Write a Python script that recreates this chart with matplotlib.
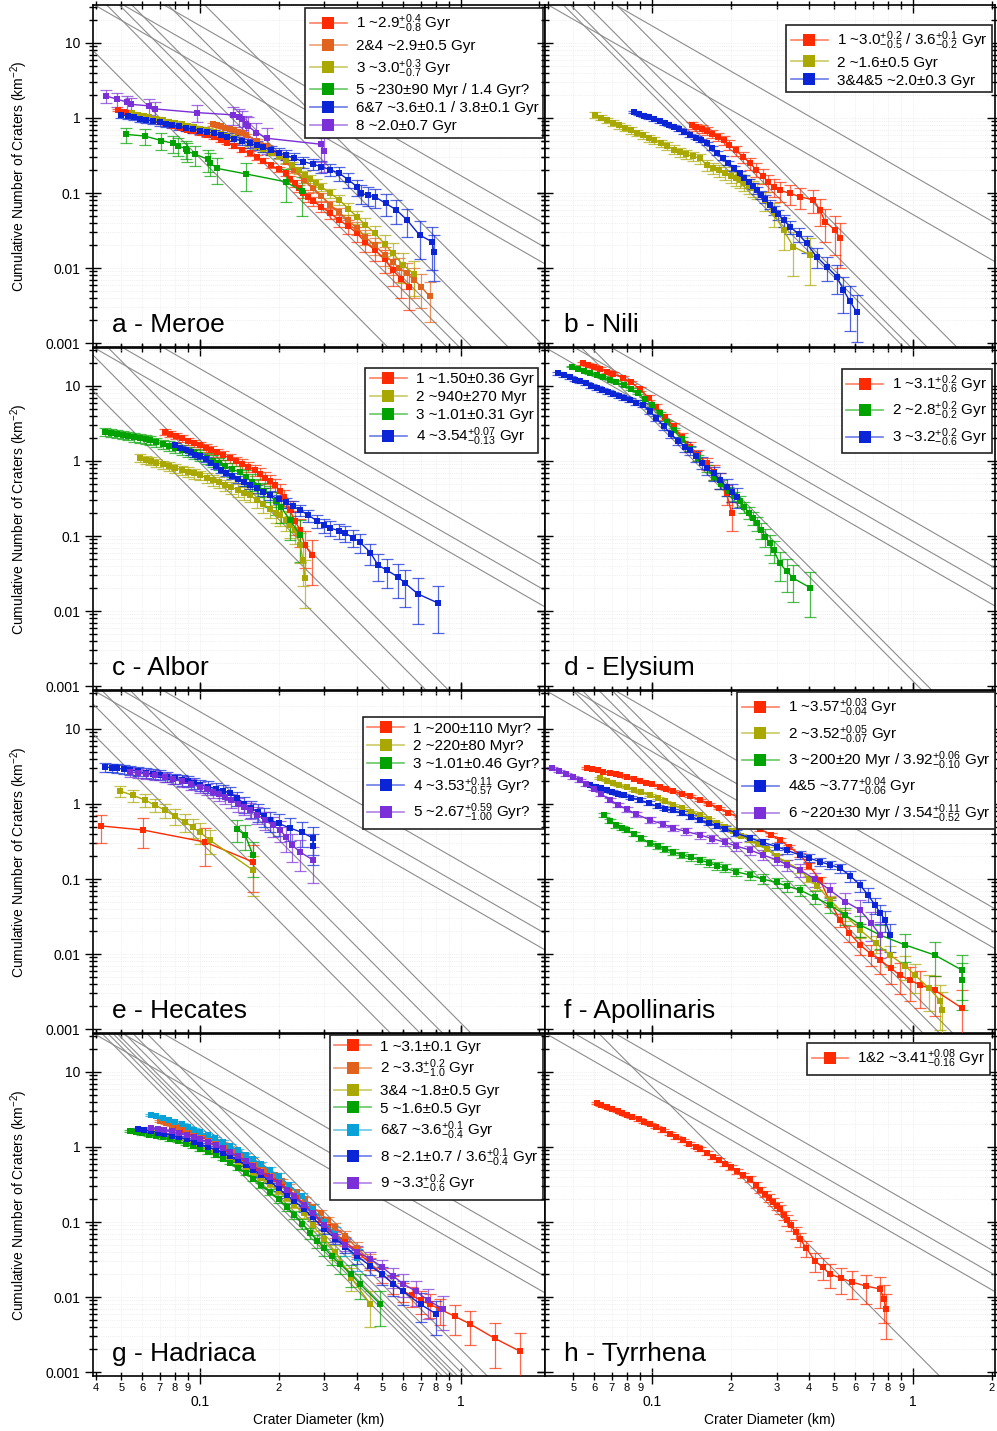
import numpy as np
import matplotlib.pyplot as plt
from matplotlib.lines import Line2D
from matplotlib.colors import to_rgba

plt.rcParams['font.family'] = ['Liberation Sans', 'DejaVu Sans']
plt.rcParams['mathtext.fontset'] = 'custom'
plt.rcParams['mathtext.rm'] = 'Liberation Sans'
plt.rcParams['mathtext.it'] = 'Liberation Sans:italic'
plt.rcParams['mathtext.bf'] = 'Liberation Sans:bold'

RED = '#ff2a00'
ORANGE = '#e0621c'
OLIVE = '#a8a800'
GREEN = '#00a200'
BLUE = '#0b24d6'
PURPLE = '#7a2fd8'
CYAN = '#08a2d8'

# ---------------- data: crater diameter (km) and cumulative N (per km2) ----------------
# a - Meroe
a1_d = [0.0485, 0.051, 0.054, 0.057, 0.060, 0.063, 0.067, 0.071, 0.075, 0.079, 0.084, 0.089, 0.094, 0.1,
        0.106, 0.1135, 0.12, 0.127, 0.135, 0.145, 0.1555, 0.165, 0.175, 0.187, 0.2, 0.213, 0.222, 0.231,
        0.24, 0.249, 0.26, 0.272, 0.292, 0.315, 0.342, 0.37, 0.40, 0.43, 0.468, 0.51, 0.548, 0.59, 0.632]
a1_n = [1.28, 1.22, 1.15, 1.09, 1.04, 0.99, 0.93, 0.88, 0.835, 0.79, 0.745, 0.70, 0.665, 0.625,
        0.59, 0.56, 0.51, 0.47, 0.425, 0.38, 0.338, 0.30, 0.27, 0.235, 0.207, 0.183, 0.155, 0.135,
        0.115, 0.099, 0.088, 0.078, 0.066, 0.054, 0.0436, 0.036, 0.029, 0.022, 0.0174, 0.013, 0.0094,
        0.0072, 0.0056]
a2_d = [0.1117, 0.116, 0.12, 0.125, 0.13, 0.135, 0.14, 0.145, 0.1507, 0.165, 0.18, 0.195, 0.213, 0.23,
        0.25, 0.27, 0.292, 0.315, 0.342, 0.37, 0.40, 0.43, 0.468, 0.51, 0.548, 0.58, 0.62, 0.66, 0.705, 0.758]
a2_n = [0.824, 0.80, 0.775, 0.745, 0.715, 0.685, 0.655, 0.625, 0.593, 0.5, 0.42, 0.34, 0.26, 0.2,
        0.15, 0.115, 0.09, 0.07, 0.055, 0.043, 0.034, 0.026, 0.02, 0.015, 0.012, 0.01, 0.0085, 0.007,
        0.0056, 0.0042]
a3_d = [0.055, 0.058, 0.061, 0.064, 0.068, 0.072, 0.076, 0.08, 0.085, 0.09, 0.095, 0.1, 0.106, 0.1135,
        0.12, 0.127, 0.135, 0.145, 0.1555, 0.165, 0.175, 0.187, 0.2, 0.213, 0.226, 0.24, 0.252, 0.265,
        0.278, 0.292, 0.315, 0.342, 0.37, 0.40, 0.43, 0.468, 0.51, 0.548, 0.6, 0.662]
a3_n = [1.155, 1.107, 1.064, 1.025, 0.977, 0.935, 0.896, 0.861, 0.822, 0.786, 0.753, 0.724, 0.692, 0.657,
        0.62, 0.58, 0.54, 0.50, 0.46, 0.42, 0.385, 0.345, 0.31, 0.275, 0.235, 0.2, 0.175, 0.155,
        0.137, 0.121, 0.1, 0.081, 0.062, 0.048, 0.038, 0.029, 0.021, 0.0157, 0.011, 0.0083]
a5_d = [0.0519, 0.0614, 0.0711, 0.0789, 0.082, 0.0881, 0.0889, 0.096, 0.1074, 0.109, 0.1163, 0.1507, 0.213, 0.2455]
a5_n = [0.605, 0.575, 0.50, 0.46, 0.427, 0.39, 0.363, 0.328, 0.281, 0.254, 0.213, 0.179, 0.141, 0.106]
a6_d = [0.05, 0.053, 0.056, 0.059, 0.062, 0.066, 0.07, 0.074, 0.078, 0.083, 0.088, 0.094, 0.1, 0.106,
        0.1135, 0.12, 0.127, 0.135, 0.145, 0.1555, 0.165, 0.175, 0.187, 0.2, 0.213, 0.23, 0.249, 0.27,
        0.292, 0.315, 0.342, 0.37, 0.40, 0.413, 0.44, 0.468, 0.515, 0.566, 0.622, 0.694, 0.775, 0.787]
a6_n = [1.1, 1.056, 1.017, 0.981, 0.947, 0.907, 0.871, 0.838, 0.808, 0.773, 0.742, 0.709, 0.68, 0.652,
        0.625, 0.59, 0.56, 0.53, 0.495, 0.46, 0.43, 0.405, 0.375, 0.345, 0.321, 0.29, 0.262, 0.243,
        0.224, 0.205, 0.183, 0.15, 0.121, 0.099, 0.094, 0.089, 0.0728, 0.0593, 0.0436, 0.0275, 0.0224, 0.0166]
a8_d = [0.0437, 0.048, 0.0524, 0.0545, 0.064, 0.0675, 0.0977, 0.134, 0.1415, 0.145, 0.1496, 0.1527,
        0.1645, 0.181, 0.292, 0.2985]
a8_n = [1.96, 1.79, 1.63, 1.52, 1.45, 1.32, 1.18, 1.10, 1.04, 0.96, 0.82, 0.78, 0.64, 0.536, 0.446, 0.363]

# b - Nili
b1_d = [0.142, 0.148, 0.155, 0.162, 0.17, 0.179, 0.188, 0.198, 0.21, 0.224, 0.238, 0.25, 0.265, 0.278,
        0.292, 0.31, 0.338, 0.369, 0.415, 0.44, 0.46, 0.503, 0.525]
b1_n = [0.807, 0.76, 0.72, 0.67, 0.62, 0.565, 0.51, 0.44, 0.37, 0.30, 0.249, 0.205, 0.17, 0.14,
        0.121, 0.108, 0.099, 0.089, 0.081, 0.0593, 0.0415, 0.032, 0.0249]
b2_d = [0.0605, 0.064, 0.0675, 0.071, 0.075, 0.079, 0.083, 0.0875, 0.092, 0.097, 0.102, 0.108, 0.114,
        0.121, 0.128, 0.135, 0.143, 0.153, 0.162, 0.171, 0.18, 0.19, 0.2, 0.21, 0.217, 0.226, 0.235,
        0.243, 0.252, 0.27, 0.292, 0.319, 0.348, 0.403]
b2_n = [1.1, 1.011, 0.933, 0.865, 0.797, 0.737, 0.685, 0.632, 0.587, 0.542, 0.502, 0.461, 0.425,
        0.38, 0.355, 0.33, 0.31, 0.29, 0.235, 0.215, 0.2, 0.185, 0.17, 0.158, 0.149, 0.137, 0.125,
        0.117, 0.11, 0.08, 0.0536, 0.032, 0.0192, 0.0149]
b3_d = [0.085, 0.089, 0.093, 0.097, 0.102, 0.107, 0.112, 0.1165, 0.121, 0.127, 0.133, 0.14, 0.147,
        0.154, 0.162, 0.17, 0.178, 0.187, 0.196, 0.206, 0.217, 0.226, 0.235, 0.243, 0.252, 0.262, 0.272,
        0.282, 0.292, 0.305, 0.32, 0.338, 0.365, 0.391, 0.427, 0.467, 0.51, 0.541, 0.573, 0.608]
b3_n = [1.21, 1.14, 1.078, 1.02, 0.957, 0.90, 0.848, 0.805, 0.766, 0.704, 0.65, 0.593, 0.545,
        0.502, 0.46, 0.395, 0.342, 0.293, 0.253, 0.216, 0.183, 0.16, 0.14, 0.125, 0.11, 0.095, 0.083,
        0.07, 0.0593, 0.052, 0.043, 0.0356, 0.028, 0.0213, 0.0142, 0.0104, 0.0077, 0.0051, 0.0036, 0.0026]

# c - Albor
c1_d = [0.0734, 0.077, 0.081, 0.085, 0.09, 0.095, 0.1, 0.105, 0.11, 0.116, 0.122, 0.13, 0.137, 0.145,
        0.153, 0.1625, 0.17, 0.178, 0.186, 0.194, 0.202, 0.21, 0.221, 0.231, 0.242, 0.252, 0.268]
c1_n = [2.44, 2.3, 2.15, 2.0, 1.85, 1.73, 1.63, 1.5, 1.4, 1.3, 1.2, 1.10, 1.0, 0.92,
        0.84, 0.76, 0.68, 0.6, 0.54, 0.48, 0.4, 0.33, 0.222, 0.16, 0.12, 0.076, 0.056]
c2_d = [0.0589, 0.062, 0.065, 0.068, 0.072, 0.076, 0.08, 0.085, 0.09, 0.095, 0.1, 0.106, 0.112, 0.118,
        0.125, 0.132, 0.14, 0.148, 0.1555, 0.165, 0.175, 0.185, 0.195, 0.203, 0.213, 0.222, 0.231,
        0.242, 0.248, 0.2525]
c2_n = [1.10, 1.045, 0.997, 0.953, 0.9, 0.853, 0.81, 0.762, 0.72, 0.683, 0.65, 0.6, 0.56, 0.52,
        0.48, 0.445, 0.41, 0.38, 0.352, 0.3, 0.265, 0.23, 0.205, 0.19, 0.165, 0.14, 0.12,
        0.076, 0.048, 0.0275]
c3_d = [0.0433, 0.0455, 0.048, 0.0505, 0.053, 0.056, 0.059, 0.062, 0.0643, 0.068, 0.072, 0.076, 0.08,
        0.085, 0.09, 0.095, 0.1, 0.106, 0.112, 0.118, 0.125, 0.133, 0.142, 0.15, 0.158, 0.167, 0.176,
        0.185, 0.195, 0.205, 0.221, 0.242]
c3_n = [2.44, 2.37, 2.29, 2.22, 2.15, 2.08, 2.0, 1.95, 1.9, 1.79, 1.69, 1.6, 1.51,
        1.42, 1.34, 1.26, 1.2, 1.1, 1.01, 0.935, 0.86, 0.78, 0.71, 0.61, 0.53, 0.46, 0.4,
        0.352, 0.29, 0.24, 0.163, 0.103]
c4_d = [0.0802, 0.084, 0.088, 0.092, 0.096, 0.1, 0.105, 0.11, 0.115, 0.12, 0.126, 0.133, 0.14, 0.148,
        0.156, 0.165, 0.175, 0.186, 0.2, 0.213, 0.227, 0.242, 0.26, 0.28, 0.3, 0.315, 0.34, 0.36, 0.385,
        0.41, 0.45, 0.481, 0.52, 0.574, 0.61, 0.684, 0.816]
c4_n = [1.63, 1.5, 1.4, 1.3, 1.22, 1.15, 1.05, 0.95, 0.85, 0.76, 0.7, 0.63, 0.57, 0.52,
        0.475, 0.43, 0.39, 0.35, 0.31, 0.28, 0.25, 0.222, 0.19, 0.16, 0.14, 0.128, 0.118, 0.11, 0.095,
        0.083, 0.06, 0.041, 0.035, 0.0284, 0.0236, 0.0169, 0.0128]

# d - Elysium
d1_d = [0.0546, 0.057, 0.06, 0.063, 0.067, 0.071, 0.0776, 0.083, 0.09, 0.097, 0.104, 0.112, 0.121, 0.13,
        0.14, 0.15, 0.162, 0.172, 0.182, 0.193, 0.202]
d1_n = [20.1, 19.2, 18.0, 17.0, 15.6, 14.5, 12.8, 11.2, 9.0, 7.0, 5.3, 3.9, 2.9, 2.1,
        1.55, 1.2, 0.93, 0.72, 0.56, 0.37, 0.2]
d2_d = [0.0492, 0.052, 0.055, 0.058, 0.0615, 0.065, 0.069, 0.073, 0.078, 0.083, 0.088, 0.094, 0.1, 0.107,
        0.114, 0.121, 0.13, 0.14, 0.15, 0.162, 0.172, 0.183, 0.195, 0.206, 0.217, 0.226, 0.235, 0.243,
        0.252, 0.262, 0.272, 0.282, 0.292, 0.309, 0.328, 0.348, 0.403]
d2_n = [18.1, 17.0, 16.0, 15.0, 14.0, 13.1, 12.2, 11.2, 10.2, 9.1, 8.0, 6.8, 5.5, 4.3,
        3.3, 2.6, 1.95, 1.45, 1.1, 0.8, 0.62, 0.49, 0.4, 0.34, 0.29, 0.245, 0.205, 0.175,
        0.148, 0.12, 0.098, 0.08, 0.065, 0.043, 0.034, 0.0273, 0.0205]
d3_d = [0.0438, 0.046, 0.0483, 0.0507, 0.0532, 0.0558, 0.0585, 0.0614, 0.0644, 0.0676, 0.071, 0.0745,
        0.078, 0.0824, 0.087, 0.092, 0.098, 0.104, 0.111, 0.118, 0.126, 0.134, 0.14, 0.148, 0.155, 0.163,
        0.172, 0.182, 0.193, 0.202, 0.211]
d3_n = [14.8, 13.9, 13.0, 12.2, 11.5, 10.8, 10.1, 9.5, 8.9, 8.4, 7.86, 7.38,
        6.95, 6.47, 6.02, 5.6, 4.6, 3.7, 2.9, 2.3, 1.85, 1.55, 1.4, 1.17, 0.95, 0.8,
        0.686, 0.56, 0.455, 0.39, 0.334]

# e - Hecates
e1_d = [0.0418, 0.0605, 0.1045, 0.1595]
e1_n = [0.51, 0.45, 0.311, 0.169]
e2_d = [0.0494, 0.0555, 0.0616, 0.067, 0.0734, 0.08, 0.0877, 0.094, 0.1, 0.109, 0.1595]
e2_n = [1.49, 1.3, 1.13, 0.97, 0.83, 0.69, 0.575, 0.49, 0.42, 0.331, 0.132]
e3_d = [0.1386, 0.149, 0.1595]
e3_n = [0.46, 0.386, 0.209]
e4_d = [0.0433, 0.046, 0.048, 0.051, 0.054, 0.058, 0.062, 0.066, 0.0703, 0.075, 0.08, 0.085, 0.09, 0.095,
        0.1, 0.107, 0.115, 0.122, 0.13, 0.139, 0.148, 0.157, 0.167, 0.176, 0.185, 0.2, 0.221, 0.245,
        0.271, 0.271]
e4_n = [3.11, 3.05, 3.0, 2.92, 2.84, 2.72, 2.6, 2.52, 2.44, 2.32, 2.2, 2.1, 2.0, 1.9,
        1.79, 1.7, 1.6, 1.5, 1.40, 1.2, 1.0, 0.88, 0.78, 0.69, 0.61, 0.55, 0.48, 0.42,
        0.352, 0.275]
e5_d = [0.054, 0.058, 0.062, 0.067, 0.0734, 0.079, 0.085, 0.092, 0.1, 0.106, 0.112, 0.118, 0.125, 0.132,
        0.14, 0.148, 0.1555, 0.166, 0.1775, 0.19, 0.203, 0.214, 0.225, 0.242, 0.271]
e5_n = [2.67, 2.58, 2.5, 2.4, 2.29, 2.15, 2.0, 1.85, 1.69, 1.57, 1.45, 1.35, 1.24, 1.12,
        1.0, 0.91, 0.83, 0.72, 0.61, 0.52, 0.45, 0.36, 0.284, 0.229, 0.179]

# f - Apollinaris
f1_d = [0.0564, 0.059, 0.062, 0.065, 0.069, 0.0725, 0.0754, 0.08, 0.085, 0.09, 0.095, 0.1, 0.107, 0.113,
        0.12, 0.13, 0.14, 0.153, 0.165, 0.18, 0.195, 0.217, 0.237, 0.26, 0.285, 0.309, 0.335, 0.369, 0.4,
        0.44, 0.48, 0.525, 0.57, 0.627, 0.69, 0.748, 0.82, 0.892, 0.97, 1.06, 1.21, 1.54]
f1_n = [3.02, 2.9, 2.8, 2.7, 2.6, 2.52, 2.44, 2.3, 2.17, 2.05, 1.93, 1.82, 1.69, 1.6,
        1.5, 1.38, 1.27, 1.13, 1.0, 0.88, 0.77, 0.65, 0.55, 0.46, 0.39, 0.331, 0.27, 0.209, 0.15,
        0.097, 0.05, 0.0284, 0.019, 0.0132, 0.01, 0.0083, 0.0065, 0.0052, 0.0045, 0.0039, 0.0033, 0.0019]
f2_d = [0.0632, 0.067, 0.071, 0.075, 0.08, 0.085, 0.091, 0.0983, 0.105, 0.112, 0.12, 0.13, 0.141, 0.153,
        0.165, 0.178, 0.19, 0.205, 0.22, 0.237, 0.255, 0.275, 0.3, 0.33, 0.369, 0.4, 0.43, 0.48, 0.55,
        0.627, 0.72, 0.816, 0.93, 1.02, 1.15, 1.27, 1.29]
f2_n = [2.22, 2.05, 1.93, 1.8, 1.66, 1.55, 1.43, 1.32, 1.2, 1.08, 0.98, 0.88, 0.79, 0.71,
        0.63, 0.56, 0.5, 0.44, 0.38, 0.331, 0.29, 0.25, 0.2, 0.165, 0.132, 0.1, 0.08, 0.0525, 0.033,
        0.0209, 0.014, 0.0097, 0.007, 0.0052, 0.0035, 0.0024, 0.0018]
f3_d = [0.0655, 0.069, 0.073, 0.077, 0.08, 0.085, 0.091, 0.0983, 0.105, 0.112, 0.12, 0.13, 0.141, 0.153,
        0.165, 0.178, 0.19, 0.21, 0.237, 0.265, 0.3, 0.33, 0.369, 0.42, 0.48, 0.55, 0.627, 0.748, 0.932,
        1.21, 1.54, 1.54]
f3_n = [0.71, 0.6, 0.52, 0.48, 0.45, 0.4, 0.35, 0.30, 0.275, 0.25, 0.23, 0.21, 0.195, 0.179,
        0.165, 0.15, 0.14, 0.125, 0.113, 0.1, 0.09, 0.08, 0.0713, 0.057, 0.045, 0.033, 0.0244, 0.0179,
        0.0132, 0.0097, 0.0061, 0.0045]
f4_d = [0.0579, 0.061, 0.064, 0.067, 0.07, 0.074, 0.078, 0.083, 0.09, 0.097, 0.105, 0.112, 0.12, 0.13,
        0.141, 0.153, 0.165, 0.178, 0.19, 0.21, 0.237, 0.265, 0.3, 0.33, 0.369, 0.4, 0.44, 0.48, 0.525,
        0.575, 0.627, 0.67, 0.715, 0.75, 0.781, 0.816]
f4_n = [1.79, 1.7, 1.62, 1.54, 1.45, 1.37, 1.3, 1.22, 1.13, 1.03, 0.93, 0.87, 0.82, 0.75,
        0.68, 0.61, 0.56, 0.51, 0.47, 0.41, 0.352, 0.31, 0.27, 0.24, 0.209, 0.19, 0.17, 0.155, 0.14,
        0.11, 0.083, 0.062, 0.045, 0.035, 0.0284, 0.0179]
f6_d = [0.0414, 0.044, 0.047, 0.05, 0.053, 0.056, 0.06, 0.064, 0.069, 0.074, 0.08, 0.087, 0.0983, 0.11,
        0.12, 0.135, 0.153, 0.17, 0.19, 0.21, 0.237, 0.265, 0.3, 0.33, 0.369, 0.42, 0.48, 0.55, 0.627,
        0.69, 0.748]
f6_n = [3.02, 2.75, 2.5, 2.28, 2.09, 1.85, 1.6, 1.35, 1.13, 0.98, 0.85, 0.73, 0.61, 0.54,
        0.48, 0.43, 0.386, 0.345, 0.31, 0.275, 0.244, 0.21, 0.18, 0.155, 0.132, 0.1, 0.0713, 0.05, 0.0386,
        0.026, 0.0179]

# g - Hadriaca
g1_d = [0.08, 0.085, 0.09, 0.095, 0.1, 0.107, 0.114, 0.12, 0.128, 0.137, 0.146, 0.156, 0.167, 0.18,
        0.193, 0.207, 0.22, 0.236, 0.252, 0.27, 0.29, 0.31, 0.33, 0.36, 0.4, 0.45, 0.5, 0.55, 0.6, 0.65,
        0.7, 0.76, 0.83, 0.95, 1.08, 1.35, 1.68]
g1_n = [1.8, 1.7, 1.6, 1.5, 1.4, 1.27, 1.15, 1.05, 0.93, 0.82, 0.72, 0.62, 0.53, 0.44,
        0.37, 0.31, 0.26, 0.21, 0.17, 0.135, 0.105, 0.085, 0.07, 0.055, 0.04, 0.028, 0.02, 0.015, 0.012,
        0.0105, 0.009, 0.008, 0.0069, 0.0055, 0.0044, 0.0028, 0.0019]
g2_d = [0.07, 0.074, 0.078, 0.083, 0.088, 0.094, 0.1, 0.107, 0.114, 0.121, 0.129, 0.138, 0.147, 0.157,
        0.168, 0.18, 0.193, 0.207, 0.22, 0.236, 0.252, 0.27, 0.29, 0.31, 0.33, 0.36, 0.4, 0.45]
g2_n = [2.2, 2.08, 1.97, 1.85, 1.74, 1.62, 1.5, 1.36, 1.24, 1.12, 1.0, 0.88, 0.78, 0.68,
        0.58, 0.5, 0.42, 0.35, 0.3, 0.25, 0.2, 0.16, 0.13, 0.105, 0.085, 0.065, 0.045, 0.03]
g3_d = [0.06, 0.064, 0.068, 0.072, 0.077, 0.082, 0.088, 0.094, 0.1, 0.107, 0.114, 0.122, 0.13, 0.14,
        0.15, 0.16, 0.172, 0.185, 0.2, 0.215, 0.23, 0.25, 0.27, 0.3, 0.33, 0.38, 0.45]
g3_n = [1.7, 1.62, 1.54, 1.46, 1.38, 1.3, 1.2, 1.1, 1.0, 0.93, 0.85, 0.77, 0.7, 0.61,
        0.53, 0.46, 0.39, 0.32, 0.26, 0.21, 0.17, 0.13, 0.09, 0.06, 0.04, 0.018, 0.008]
g5_d = [0.054, 0.057, 0.06, 0.064, 0.068, 0.072, 0.077, 0.082, 0.088, 0.094, 0.1, 0.107, 0.115, 0.122,
        0.13, 0.14, 0.15, 0.16, 0.172, 0.185, 0.2, 0.215, 0.23, 0.247, 0.264, 0.282, 0.3, 0.32, 0.344,
        0.38, 0.41, 0.49]
g5_n = [1.63, 1.58, 1.52, 1.46, 1.4, 1.34, 1.27, 1.2, 1.1, 1.02, 0.94, 0.86, 0.78, 0.7,
        0.62, 0.53, 0.45, 0.38, 0.31, 0.25, 0.2, 0.16, 0.125, 0.095, 0.072, 0.056, 0.045, 0.035, 0.0275,
        0.02, 0.0149, 0.0081]
g6_d = [0.065, 0.068, 0.072, 0.076, 0.08, 0.085, 0.09, 0.095, 0.1, 0.107, 0.114, 0.122, 0.13, 0.14,
        0.15, 0.16, 0.172, 0.185, 0.2, 0.22, 0.245, 0.27, 0.3, 0.33, 0.36, 0.4]
g6_n = [2.7, 2.6, 2.45, 2.3, 2.15, 2.0, 1.85, 1.7, 1.58, 1.43, 1.3, 1.16, 1.04, 0.9,
        0.79, 0.69, 0.59, 0.5, 0.41, 0.31, 0.22, 0.15, 0.1, 0.07, 0.048, 0.033]
g8_d = [0.058, 0.061, 0.065, 0.069, 0.073, 0.078, 0.083, 0.089, 0.095, 0.1, 0.107, 0.115, 0.122, 0.13,
        0.14, 0.15, 0.16, 0.172, 0.185, 0.2, 0.215, 0.23, 0.25, 0.27, 0.3, 0.33, 0.36, 0.4, 0.45, 0.5,
        0.55, 0.6, 0.7, 0.8]
g8_n = [1.75, 1.7, 1.63, 1.56, 1.5, 1.42, 1.35, 1.27, 1.18, 1.1, 1.0, 0.92, 0.84, 0.76,
        0.67, 0.58, 0.5, 0.42, 0.35, 0.28, 0.23, 0.19, 0.15, 0.115, 0.08, 0.06, 0.047, 0.035, 0.026, 0.02,
        0.015, 0.012, 0.008, 0.006]
g9_d = [0.065, 0.069, 0.073, 0.078, 0.083, 0.089, 0.095, 0.1, 0.107, 0.115, 0.122, 0.13, 0.14, 0.15,
        0.16, 0.172, 0.185, 0.2, 0.215, 0.23, 0.25, 0.27, 0.3, 0.33, 0.36, 0.4, 0.45, 0.5, 0.55, 0.6,
        0.67, 0.75, 0.85]
g9_n = [1.8, 1.74, 1.68, 1.61, 1.54, 1.45, 1.35, 1.27, 1.17, 1.06, 0.96, 0.86, 0.75, 0.65,
        0.56, 0.47, 0.4, 0.33, 0.27, 0.22, 0.17, 0.13, 0.09, 0.065, 0.05, 0.04, 0.032, 0.025, 0.019,
        0.015, 0.012, 0.009, 0.007]

# h - Tyrrhena
h1_d = [0.0615, 0.064, 0.067, 0.07, 0.074, 0.077, 0.08, 0.084, 0.089, 0.0935, 0.0983, 0.104, 0.11, 0.117,
        0.124, 0.131, 0.139, 0.147, 0.153, 0.162, 0.171, 0.18, 0.19, 0.2, 0.212, 0.224, 0.237, 0.25,
        0.26, 0.27, 0.28, 0.29, 0.3, 0.309, 0.32, 0.33, 0.34, 0.355, 0.369, 0.39, 0.421, 0.45, 0.48,
        0.53, 0.584, 0.66, 0.748, 0.774, 0.788]
h1_n = [3.86, 3.65, 3.43, 3.23, 3.0, 2.84, 2.69, 2.52, 2.33, 2.17, 2.03, 1.84, 1.67, 1.5,
        1.355, 1.23, 1.11, 1.01, 0.94, 0.834, 0.744, 0.668, 0.596, 0.535, 0.474, 0.422, 0.374, 0.311,
        0.271, 0.238, 0.21, 0.186, 0.165, 0.149, 0.124, 0.106, 0.0907, 0.0725, 0.0593, 0.045, 0.0302,
        0.025, 0.0203, 0.0178, 0.0158, 0.014, 0.0128, 0.0094, 0.0069]

# counting areas (km2) used for the Poisson error bars
a_area = [700, 800, 500, 33, 135, 12.5]
b_area = [110, 150, 780]
c_area = [50, 70, 30, 160]
d_area = [30, 135, 33]
e_area = [12, 25, 20, 18, 22]
f_area = [1000, 1100, 450, 350, 220]
g_area = [1000, 600, 500, 500, 300, 700, 600]
h_area = [400]

# isochrons: N at D = 1 km and log-log slope
a_iso_n = [0.17, 0.083, 0.05, 9.2e-5, 5.7e-4, 8.4e-4, 1.24e-3, 3.8e-3, 0.0118]
a_iso_s = [-2, -2, -2, -3.5, -3.5, -3.5, -3.5, -3.5, -3.5]
b_iso_n = [0.169, 0.0515, 6.6e-4, 8.2e-4, 1.36e-3, 3.4e-3]
b_iso_s = [-2, -2, -3.5, -3.5, -3.5, -3.5]
c_iso_n = [0.17, 0.083, 0.05, 1e-4, 3e-4, 6e-4]
c_iso_s = [-2, -2, -2, -3.5, -3.5, -3.5]
d_iso_n = [0.159, 0.083, 0.0495, 1.16e-3, 1.57e-3]
d_iso_s = [-2, -2, -2, -3.5, -3.5]
e_iso_n = [0.17, 0.083, 0.05, 1e-4, 2.5e-4, 5e-4, 1.2e-3]
e_iso_s = [-2, -2, -2, -3.5, -3.5, -3.5, -3.5]
f_iso_n = [0.17, 0.083, 0.05, 9e-4, 1.2e-3, 2e-3, 3e-3]
f_iso_s = [-2, -2, -2, -3.5, -3.5, -3.5, -3.5]
g_iso_n = [0.17, 0.083, 0.05, 5e-4, 6e-4, 7e-4, 8e-4, 1e-3, 1.3e-3, 2e-3]
g_iso_s = [-2, -2, -2, -3.5, -3.5, -3.5, -3.5, -3.5, -3.5, -3.5]
h_iso_n = [0.17, 0.083, 0.05, 2e-3]
h_iso_s = [-2, -2, -2, -3.5]

a_labels = [r'1 ~2.9$^{+0.4}_{-0.8}$ Gyr', '2&4 ~2.9±0.5 Gyr', r'3 ~3.0$^{+0.3}_{-0.7}$ Gyr',
            '5 ~230±90 Myr / 1.4 Gyr?', '6&7 ~3.6±0.1 / 3.8±0.1 Gyr', '8 ~2.0±0.7 Gyr']
b_labels = [r'1 ~3.0$^{+0.2}_{-0.5}$ / 3.6$^{+0.1}_{-0.2}$ Gyr', '2 ~1.6±0.5 Gyr', '3&4&5 ~2.0±0.3 Gyr']
c_labels = ['1 ~1.50±0.36 Gyr', '2 ~940±270 Myr', '3 ~1.01±0.31 Gyr', r'4 ~3.54$^{+0.07}_{-0.13}$ Gyr']
d_labels = [r'1 ~3.1$^{+0.2}_{-0.6}$ Gyr', r'2 ~2.8$^{+0.2}_{-0.2}$ Gyr', r'3 ~3.2$^{+0.2}_{-0.6}$ Gyr']
e_labels = ['1 ~200±110 Myr?', '2 ~220±80 Myr?', '3 ~1.01±0.46 Gyr?', r'4 ~3.53$^{+0.11}_{-0.57}$ Gyr?',
            r'5 ~2.67$^{+0.59}_{-1.00}$ Gyr?']
f_labels = [r'1 ~3.57$^{+0.03}_{-0.04}$ Gyr', r'2 ~3.52$^{+0.05}_{-0.07}$ Gyr',
            r'3 ~200±20 Myr / 3.92$^{+0.06}_{-0.10}$ Gyr', r'4&5 ~3.77$^{+0.04}_{-0.06}$ Gyr',
            r'6 ~220±30 Myr / 3.54$^{+0.11}_{-0.52}$ Gyr']
g_labels = ['1 ~3.1±0.1 Gyr', r'2 ~3.3$^{+0.2}_{-1.0}$ Gyr', '3&4 ~1.8±0.5 Gyr', '5 ~1.6±0.5 Gyr',
            r'6&7 ~3.6$^{+0.1}_{-0.4}$ Gyr', r'8 ~2.1±0.7 / 3.6$^{+0.1}_{-0.4}$ Gyr', r'9 ~3.3$^{+0.2}_{-0.6}$ Gyr']
h_labels = [r'1&2 ~3.41$^{+0.08}_{-0.16}$ Gyr']

panels = [
    dict(title='a - Meroe', d=[a1_d, a2_d, a3_d, a5_d, a6_d, a8_d], n=[a1_n, a2_n, a3_n, a5_n, a6_n, a8_n],
         col=[RED, ORANGE, OLIVE, GREEN, BLUE, PURPLE], area=a_area, lab=a_labels,
         iso_n=a_iso_n, iso_s=a_iso_s, leg=(0.996, 0.991)),
    dict(title='b - Nili', d=[b1_d, b2_d, b3_d], n=[b1_n, b2_n, b3_n], col=[RED, OLIVE, BLUE],
         area=b_area, lab=b_labels, iso_n=b_iso_n, iso_s=b_iso_s, leg=(0.993, 0.942)),
    dict(title='c - Albor', d=[c1_d, c2_d, c3_d, c4_d], n=[c1_n, c2_n, c3_n, c4_n],
         col=[RED, OLIVE, GREEN, BLUE], area=c_area, lab=c_labels, iso_n=c_iso_n, iso_s=c_iso_s,
         leg=(0.985, 0.942)),
    dict(title='d - Elysium', d=[d1_d, d2_d, d3_d], n=[d1_n, d2_n, d3_n], col=[RED, GREEN, BLUE],
         area=d_area, lab=d_labels, iso_n=d_iso_n, iso_s=d_iso_s, leg=(0.993, 0.939)),
    dict(title='e - Hecates', d=[e1_d, e2_d, e3_d, e4_d, e5_d], n=[e1_n, e2_n, e3_n, e4_n, e5_n],
         col=[RED, OLIVE, GREEN, BLUE, PURPLE], area=e_area, lab=e_labels, iso_n=e_iso_n,
         iso_s=e_iso_s, leg=(0.998, 0.924)),
    dict(title='f - Apollinaris', d=[f1_d, f2_d, f3_d, f4_d, f6_d], n=[f1_n, f2_n, f3_n, f4_n, f6_n],
         col=[RED, OLIVE, GREEN, BLUE, PURPLE], area=f_area, lab=f_labels, iso_n=f_iso_n,
         iso_s=f_iso_s, leg=(1.0, 0.997)),
    dict(title='g - Hadriaca', d=[g1_d, g2_d, g3_d, g5_d, g6_d, g8_d, g9_d],
         n=[g1_n, g2_n, g3_n, g5_n, g6_n, g8_n, g9_n],
         col=[RED, ORANGE, OLIVE, GREEN, CYAN, BLUE, PURPLE], area=g_area, lab=g_labels,
         iso_n=g_iso_n, iso_s=g_iso_s, leg=(0.996, 0.997)),
    dict(title='h - Tyrrhena', d=[h1_d], n=[h1_n], col=[RED], area=h_area, lab=h_labels,
         iso_n=h_iso_n, iso_s=h_iso_s, leg=(0.989, 0.974)),
]

# ---------------- figure ----------------
W, H = 997, 1431
fig = plt.figure(figsize=(W / 100, H / 100), dpi=100)
cols = [(93, 452, (0.0389, 2.10)), (545, 450, (0.0389, 2.06))]
row_top = [5, 348, 691, 1034]
ph = 342
YL = (8.85e-4, 32.1)

xmajor = [0.1, 1]
xminor = [0.04, 0.05, 0.06, 0.07, 0.08, 0.09, 0.2, 0.3, 0.4, 0.5, 0.6, 0.7, 0.8, 0.9, 2]
ymajor = [0.001, 0.01, 0.1, 1, 10]
yminor = [m * 10.0 ** e for e in range(-3, 2) for m in range(2, 10) if m * 10.0 ** e < 32]

for i, p in enumerate(panels):
    r, c = divmod(i, 2)
    x0, w, xl = cols[c]
    ax = fig.add_axes([x0 / W, 1 - (row_top[r] + ph) / H, w / W, ph / H])
    ax.set_xscale('log')
    ax.set_yscale('log')

    # isochrons
    xs = np.array(xl)
    for n1, s in zip(p['iso_n'], p['iso_s']):
        ax.plot(xs, n1 * xs ** s, color='#8c8c8c', lw=0.8, zorder=2)

    handles = []
    for d, n, col, area in zip(p['d'], p['n'], p['col'], p['area']):
        d = np.array(d)
        n = np.array(n)
        up = np.sqrt(n / area)
        lo = np.minimum(up, 0.6 * n)
        ax.errorbar(d, n, yerr=[lo, up], fmt='none', ecolor=col, elinewidth=0.9,
                    capsize=4, capthick=0.9, alpha=0.7, zorder=3)
        ax.plot(d, n, '-', color=col, lw=1, marker='s', ms=4, mew=0, zorder=4)
        handles.append(Line2D([], [], color=to_rgba(col, 0.6), lw=1.2, marker='s', ms=8, mew=0,
                              markerfacecolor=col))

    leg = ax.legend(handles, p['lab'], loc='upper right', bbox_to_anchor=p['leg'], borderaxespad=0,
                    fontsize=11, frameon=True, fancybox=False, framealpha=1, edgecolor='#222222',
                    handlelength=2.4, handletextpad=0.6, borderpad=0.3, labelspacing=0.25)
    leg.get_frame().set_linewidth(1.2)
    leg.set_zorder(10)

    ax.text(0.042, 0.044, p['title'], transform=ax.transAxes, fontsize=19, ha='left', va='baseline',
            zorder=11)

    ax.grid(True, which='both', color='#e4e4e4', lw=0.5, ls=':')
    ax.set_axisbelow(True)
    for sp in ax.spines.values():
        sp.set_linewidth(1.2)

    ax.set_xticks(xmajor)
    ax.set_yticks(ymajor)
    if r == 3:
        ax.set_xticklabels(['0.1', '1'])
        if c == 0:
            mt = xminor[:-1]
        else:
            mt = xminor[1:]
        ax.set_xticks(mt, labels=[('%g' % (v / 10 ** np.floor(np.log10(v) + 1e-9)))[0] for v in mt],
                      minor=True)
        ax.set_xlabel('Crater Diameter (km)', fontsize=10)
        ax.xaxis.set_label_coords(0.5, -0.108)
    else:
        ax.set_xticklabels([])
        ax.set_xticks(xminor, minor=True)
        ax.set_xticklabels([], minor=True)
    ax.set_yticks(yminor, minor=True)
    ax.set_yticklabels([], minor=True)
    if c == 0:
        ax.set_yticklabels(['0.001', '0.01', '0.1', '1', '10'])
        ax.set_ylabel('Cumulative Number of Craters (km$^{-2}$)', fontsize=10)
        ax.yaxis.set_label_coords(-0.14, 0.5)
    else:
        ax.set_yticklabels([])

    ax.tick_params(which='both', direction='inout', top=True, right=True, width=1)
    ax.tick_params(which='major', length=11, labelsize=10)
    ax.tick_params(which='minor', length=6, labelsize=8)
    ax.tick_params(axis='x', which='major', pad=8)
    ax.tick_params(axis='x', which='minor', pad=2)

    ax.set_xlim(xl)
    ax.set_ylim(YL)

fig.savefig('out.png', dpi=100)
